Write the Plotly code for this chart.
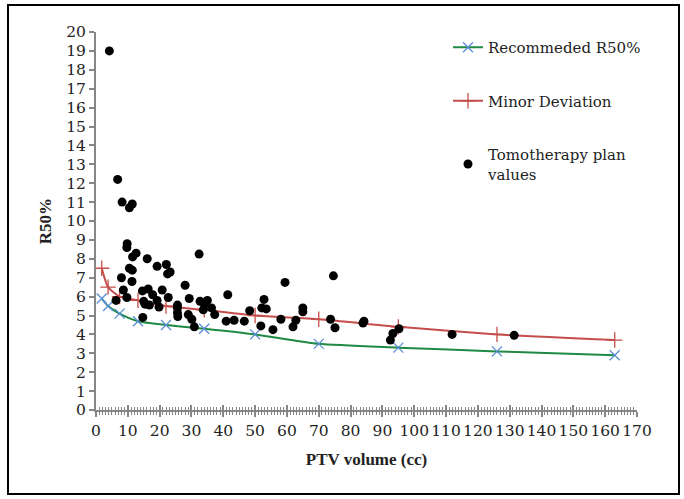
import plotly.graph_objects as go

# Reference curves (PTV volume cc -> R50%)
vol_ref = [1.8, 3.8, 7.4, 13.2, 22, 34, 50, 70, 95, 126, 163]
r50_recommended = [5.9, 5.5, 5.1, 4.7, 4.5, 4.3, 4.0, 3.5, 3.3, 3.1, 2.9]
r50_minor = [7.5, 6.5, 6.0, 5.8, 5.5, 5.3, 5.0, 4.8, 4.4, 4.0, 3.7]

# Tomotherapy plan values
tomo_vol = [4.2, 6.8, 8.2, 11.4, 10.5, 9.8, 9.7, 12.6, 11.5, 16.1,
            19.2, 22.1, 10.5, 11.4, 23.3, 22.5, 8.0, 11.3, 28.0, 8.6,
            16.4, 20.8, 14.6, 17.8, 9.7, 22.7, 29.3, 6.3, 19.2, 15.0,
            32.7, 35.0, 15.4, 16.8, 25.6, 34.0, 36.3, 19.8, 25.6, 33.7,
            25.6, 37.3, 29.0, 25.7, 30.1, 14.7, 30.9, 32.4, 41.4, 59.4,
            74.6, 40.9, 43.4, 46.6, 48.3, 52.8, 52.1, 53.5, 51.8, 55.6,
            58.1, 61.9, 62.8, 65.0, 65.0, 73.7, 75.1, 83.9, 84.2, 95.2,
            93.3, 92.5, 111.9, 131.4]
tomo_r50 = [19.0, 12.2, 11.0, 10.9, 10.7, 8.8, 8.6, 8.3, 8.1, 8.0,
            7.6, 7.7, 7.5, 7.4, 7.3, 7.2, 7.0, 6.8, 6.6, 6.35,
            6.4, 6.35, 6.3, 6.1, 5.95, 5.95, 5.9, 5.8, 5.8, 5.75,
            5.75, 5.8, 5.6, 5.55, 5.55, 5.6, 5.4, 5.45, 5.4, 5.3,
            5.15, 5.05, 5.05, 4.95, 4.8, 4.9, 4.4, 8.25, 6.1, 6.75,
            7.1, 4.7, 4.75, 4.7, 5.25, 5.85, 5.4, 5.35, 4.45, 4.25,
            4.8, 4.4, 4.75, 5.4, 5.2, 4.8, 4.35, 4.6, 4.7, 4.3,
            4.05, 3.7, 4.0, 3.95]

x_ticks = list(range(0, 171, 10))
y_ticks = list(range(0, 21, 1))

FONT = "DejaVu Serif"
TITLE_FONT = "Liberation Serif"
AXIS_GREY = "#868686"
TEXT = "#222222"

fig = go.Figure()
fig.add_trace(go.Scatter(
    x=vol_ref, y=r50_recommended, mode="lines+markers",
    name="Recommeded R50%", legendgroup="a",
    line=dict(color="#1E8A43", width=2, shape="spline", smoothing=0.6),
    marker=dict(symbol="x-thin", size=10, color="#5B8ED6",
                line=dict(color="#5B8ED6", width=1.3)),
))
fig.add_trace(go.Scatter(
    x=vol_ref, y=r50_minor, mode="lines+markers",
    name="Minor Deviation", legendgroup="b",
    line=dict(color="#C44E4B", width=2, shape="spline", smoothing=0.6),
    marker=dict(symbol="cross-thin", size=11, color="#C44E4B",
                line=dict(color="#C44E4B", width=1.3)),
))
fig.add_trace(go.Scatter(
    x=tomo_vol, y=tomo_r50, mode="markers",
    name="Tomotherapy plan<br>values", legendgroup="c",
    marker=dict(symbol="circle", size=9, color="black"),
))
# invisible trace on second x axis to give cross ticks
fig.add_trace(go.Scatter(x=[0, 170], y=[0, 0], xaxis="x2", mode="none",
                         showlegend=False, hoverinfo="skip"))

W, H = 684, 499
L, R, T, B = 96, 47, 32, 89
pw, ph = W - L - R, H - T - B


def px_to_paper_x(px):
    return (px - L) / pw


def px_to_paper_y(py):
    return (H - B - py) / ph


fig.update_layout(
    width=W, height=H,
    margin=dict(l=L, r=R, t=T, b=B),
    paper_bgcolor="white", plot_bgcolor="white",
    font=dict(family=FONT, size=15, color=TEXT),
    showlegend=True,
    legend=dict(
        x=px_to_paper_x(448), y=px_to_paper_y(31),
        xanchor="left", yanchor="top",
        bgcolor="rgba(0,0,0,0)",
        font=dict(family=FONT, size=15, color=TEXT),
        tracegroupgap=31,
        itemwidth=30,
    ),
    xaxis=dict(
        range=[0, 170], tickvals=x_ticks, ticktext=[str(v) for v in x_ticks],
        showgrid=False, zeroline=False,
        showline=True, linecolor=AXIS_GREY, linewidth=2,
        ticks="outside", ticklen=5, tickwidth=1.5, tickcolor=AXIS_GREY,
        minor=dict(dtick=1, ticks="outside", ticklen=3, tickwidth=1, tickcolor=AXIS_GREY),
        tickfont=dict(family=FONT, size=15.5, color=TEXT),
        title=dict(text="<b>PTV volume (cc)</b>", standoff=15,
                   font=dict(family=TITLE_FONT, size=17, color=TEXT)),
    ),
    xaxis2=dict(
        range=[0, 170], overlaying="x", anchor="y", side="bottom",
        tickvals=x_ticks, showticklabels=False, showgrid=False, zeroline=False,
        showline=False,
        ticks="inside", ticklen=5, tickwidth=1.5, tickcolor=AXIS_GREY,
        minor=dict(dtick=1, ticks="inside", ticklen=3, tickwidth=1, tickcolor=AXIS_GREY),
    ),
    yaxis=dict(
        range=[0, 20], tickvals=y_ticks, ticktext=[str(v) for v in y_ticks],
        showgrid=False, zeroline=False,
        showline=True, linecolor=AXIS_GREY, linewidth=2,
        ticks="outside", ticklen=5, tickwidth=1.5, tickcolor=AXIS_GREY,
        tickfont=dict(family=FONT, size=15.5, color=TEXT),
        title=dict(text="<b>R50%</b>", standoff=10,
                   font=dict(family=TITLE_FONT, size=17, color=TEXT)),
    ),
    shapes=[dict(
        type="rect", xref="paper", yref="paper",
        x0=px_to_paper_x(8), x1=px_to_paper_x(679),
        y0=px_to_paper_y(494), y1=px_to_paper_y(5),
        line=dict(color="black", width=2), fillcolor="rgba(0,0,0,0)",
        layer="below",
    )],
)

fig.write_html("out.html", config={"displayModeBar": False},
               post_script="document.body.style.margin='0';")
